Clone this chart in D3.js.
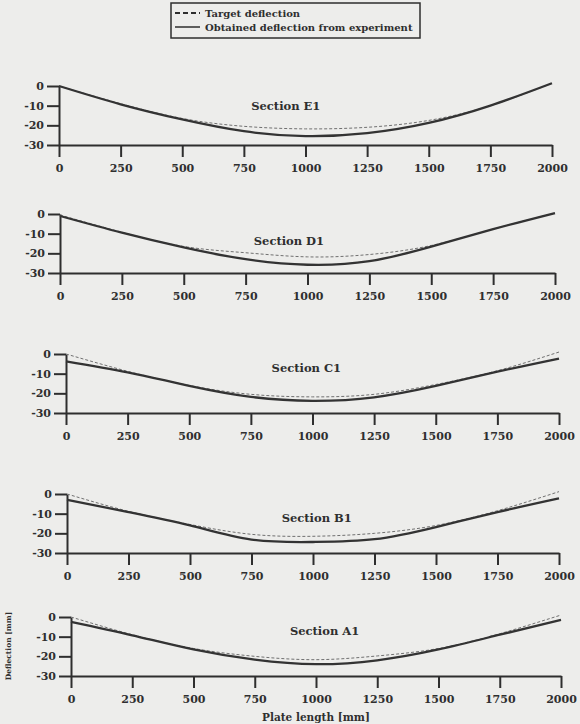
<!DOCTYPE html>
<html>
<head>
<meta charset="utf-8">
<script src="https://cdn.jsdelivr.net/npm/d3@7"></script>
<style>
  body { margin: 0; background: #ededeb; }
  svg { display: block; }
  text { font-family: 'DejaVu Serif', 'Liberation Serif', serif; font-weight: bold; fill: #2f2f2f; }
  .domain, .tick line { stroke: #2e2e2e; stroke-width: 2; }
</style>
</head>
<body>
<div id="container"></div>
<script>
const width = 580;
const height = 724;

// plate length positions [mm]
const lengths = [0, 250, 500, 750, 1000, 1250, 1500, 1750, 2000];
const xTicks = [0, 250, 500, 750, 1000, 1250, 1500, 1750, 2000];
const yTicks = [0, -10, -20, -30];

const sections = ['Section E1', 'Section D1', 'Section C1', 'Section B1', 'Section A1'];

// deflection [mm], read at each plate length
const targetE1 = [0, -9, -16.5, -20.5, -21.8, -21, -17.5, -10, 1.4];
const obtainedE1 = [0, -9.3, -17, -23, -25.5, -24, -18.8, -10, 1.4];
const targetD1 = [-0.5, -9.3, -16.5, -19.7, -21.8, -20.6, -16, -7.7, 0.5];
const obtainedD1 = [-1, -9.5, -17, -23, -25.8, -24, -16.6, -7.7, 0.5];
const targetC1 = [0, -8.8, -16, -20.5, -21.8, -20.5, -15.5, -8.5, 1];
const obtainedC1 = [-3.7, -9.3, -16.2, -21.8, -23.8, -22, -16.2, -9, -2.3];
const targetB1 = [0, -8.8, -15.5, -20.5, -21.5, -20, -16, -8.5, 1.2];
const obtainedB1 = [-2.9, -9.2, -16, -23.2, -24.4, -23, -16.8, -9.2, -2.2];
const targetA1 = [0, -9, -16, -20, -21.7, -19.8, -16, -8.5, 1];
const obtainedA1 = [-2.5, -9.3, -16.5, -21.7, -24, -22, -16.5, -9, -1.5];

const targets = [targetE1, targetD1, targetC1, targetB1, targetA1];
const obtained = [obtainedE1, obtainedD1, obtainedC1, obtainedB1, obtainedA1];

// where each panel sits on the page (the scan is slightly skewed)
const frames = [
    { top: 86, left: 59, right: 552, labelX: 920, labelY: -10 },
    { top: 214, left: 60, right: 555, labelX: 925, labelY: -13.5 },
    { top: 354, left: 66, right: 559, labelX: 975, labelY: -7 },
    { top: 494, left: 67, right: 559, labelX: 1015, labelY: -12 },
    { top: 617, left: 71, right: 561, labelX: 1035, labelY: -7 }
];

let svg = d3.select('#container').append('svg')
    .attr('width', width)
    .attr('height', height)
    .attr('viewBox', `0 0 ${width} ${height}`);

frames.forEach((f, i) => {
    let x = d3.scaleLinear().domain([0, 2000]).range([f.left, f.right]);
    let y = d3.scaleLinear().domain([-30, 0]).range([f.top + 59, f.top]);

    let g = svg.append('g');

    g.append('g')
        .attr('transform', `translate(0,${y(-30)})`)
        .call(d3.axisBottom(x).tickValues(xTicks).tickFormat(d3.format('d'))
            .tickSize(12).tickSizeOuter(0).tickPadding(7));

    g.append('g')
        .attr('transform', `translate(${x(0)},0)`)
        .call(d3.axisLeft(y).tickValues(yTicks).tickSize(12).tickSizeOuter(0).tickPadding(3)
            .tickFormat(d => d === 0 ? '0' : '-' + Math.abs(d)));

    g.selectAll('.tick text')
        .attr('font-size', 11)
        .attr('font-family', null)
        .attr('fill', null);

    let line = d3.line()
        .x((d, j) => x(lengths[j]))
        .y(d => y(d))
        .curve(d3.curveNatural);

    g.append('path')
        .datum(targets[i])
        .attr('d', line)
        .attr('fill', 'none')
        .attr('stroke', '#707070')
        .attr('stroke-width', 1)
        .attr('stroke-dasharray', '3,2');

    g.append('path')
        .datum(obtained[i])
        .attr('d', line)
        .attr('fill', 'none')
        .attr('stroke', '#333')
        .attr('stroke-width', 2.3);

    g.append('text')
        .attr('x', x(f.labelX))
        .attr('y', y(f.labelY))
        .attr('dy', '0.35em')
        .attr('text-anchor', 'middle')
        .attr('font-size', 11.5)
        .text(sections[i]);
});

// axis titles
svg.append('text')
    .attr('transform', 'translate(11,646) rotate(-90)')
    .attr('text-anchor', 'middle')
    .attr('font-size', 7.5)
    .text('Deflection [mm]');

svg.append('text')
    .attr('x', 316)
    .attr('y', 721)
    .attr('text-anchor', 'middle')
    .attr('font-size', 10.5)
    .text('Plate length [mm]');

// legend
let legend = svg.append('g').attr('transform', 'translate(171,3)');
legend.append('rect')
    .attr('width', 249)
    .attr('height', 35)
    .attr('fill', 'none')
    .attr('stroke', '#2e2e2e')
    .attr('stroke-width', 1.5);

legend.append('line')
    .attr('x1', 4).attr('x2', 29).attr('y1', 10).attr('y2', 10)
    .attr('stroke', '#2e2e2e').attr('stroke-width', 2).attr('stroke-dasharray', '5,3');
legend.append('line')
    .attr('x1', 4).attr('x2', 29).attr('y1', 24).attr('y2', 24)
    .attr('stroke', '#2e2e2e').attr('stroke-width', 1.5);

legend.append('text').attr('x', 34).attr('y', 10).attr('dy', '0.35em')
    .attr('font-size', 10).text('Target deflection');
legend.append('text').attr('x', 34).attr('y', 24).attr('dy', '0.35em')
    .attr('font-size', 10).text('Obtained deflection from experiment');
</script>
</body>
</html>
